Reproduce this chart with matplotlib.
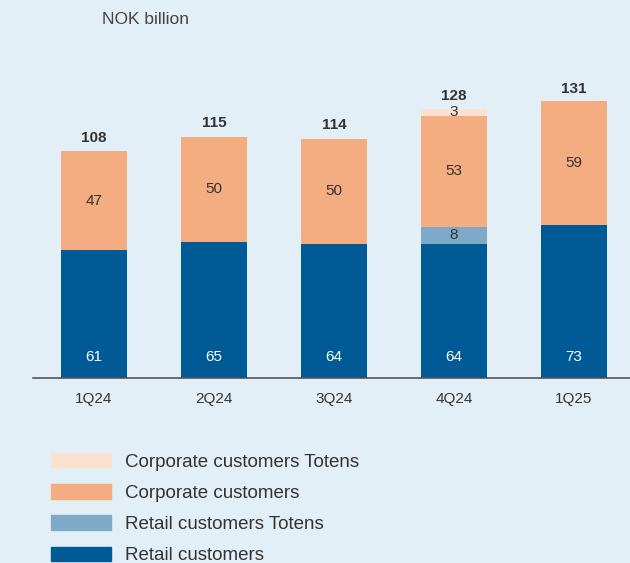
import matplotlib
matplotlib.use("Agg")
import numpy as np
import matplotlib.pyplot as plt
from matplotlib.patches import Patch

quarters = ['1Q24', '2Q24', '3Q24', '4Q24', '1Q25']
retail = [61, 65, 64, 64, 73]
retail_totens = [0, 0, 0, 8, 0]
corporate = [47, 50, 50, 53, 59]
corporate_totens = [0, 0, 0, 3, 0]
totals = [108, 115, 114, 128, 131]

bg = '#e3eff6'
c_retail = '#005a96'
c_retail_t = '#7ea9c7'
c_corp = '#f4ad80'
c_corp_t = '#fbe2d0'
txt = '#333333'

plt.rcParams['font.family'] = ['Liberation Sans', 'DejaVu Sans']

fig = plt.figure(figsize=(6.3, 5.63), dpi=100, facecolor=bg)
ax = fig.add_axes([33 / 630, 185 / 563, 597 / 630, 294 / 563])
ax.set_facecolor(bg)

x = np.arange(len(quarters))
w = 0.55
b1 = np.array(retail)
b2 = b1 + np.array(retail_totens)
b3 = b2 + np.array(corporate)

ax.bar(x, retail, w, color=c_retail)
ax.bar(x, retail_totens, w, bottom=b1, color=c_retail_t)
ax.bar(x, corporate, w, bottom=b2, color=c_corp)
ax.bar(x, corporate_totens, w, bottom=b3, color=c_corp_t)

for i in range(len(quarters)):
    ax.text(x[i], 10, str(retail[i]), ha='center', va='center',
            color='white', fontsize=11)
    if retail_totens[i]:
        ax.text(x[i], b1[i] + retail_totens[i] / 2, str(retail_totens[i]),
                ha='center', va='center', color=txt, fontsize=11)
    ax.text(x[i], b2[i] + corporate[i] / 2, str(corporate[i]),
            ha='center', va='center', color=txt, fontsize=11)
    if corporate_totens[i]:
        ax.text(x[i], b3[i] + corporate_totens[i] / 2, str(corporate_totens[i]),
                ha='center', va='center', color=txt, fontsize=11)
    ax.text(x[i], totals[i] + 6.5, str(totals[i]), ha='center', va='center',
            color=txt, fontsize=11, fontweight='bold')

ax.set_xlim(-0.508, 4.467)
ax.set_ylim(0, 140)
ax.set_xticks(x)
ax.set_xticklabels(quarters, fontsize=11, color=txt)
ax.tick_params(axis='x', length=0, pad=10)
ax.set_yticks([])
for s in ['top', 'right', 'left']:
    ax.spines[s].set_visible(False)
ax.spines['bottom'].set_color('#555555')
ax.spines['bottom'].set_linewidth(1.2)

fig.text(102 / 630, 1 - 19 / 563, 'NOK billion', ha='left', va='center',
         fontsize=12.5, color='#444444')

handles = [Patch(color=c_corp_t), Patch(color=c_corp),
           Patch(color=c_retail_t), Patch(color=c_retail)]
labels = ['Corporate customers Totens', 'Corporate customers',
          'Retail customers Totens', 'Retail customers']
fig.legend(handles, labels, loc='upper left', bbox_to_anchor=(51 / 630, 1 - 453 / 563),
           frameon=False, fontsize=13.5, handlelength=3.2, handleheight=0.8,
           labelspacing=0.72, handletextpad=0.75, borderpad=0, borderaxespad=0,
           labelcolor=txt)

fig.savefig('out.png', dpi=100, facecolor=bg)
